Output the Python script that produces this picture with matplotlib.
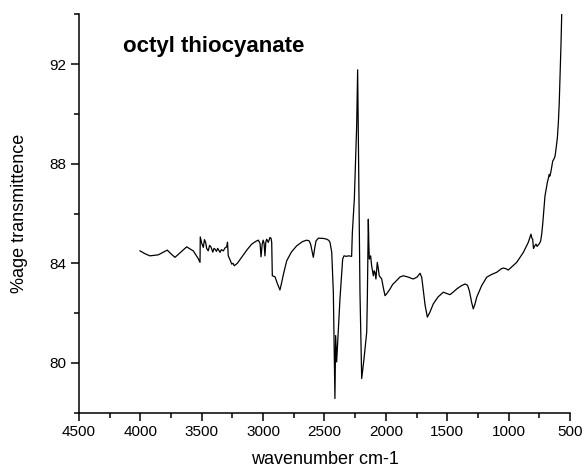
import matplotlib
matplotlib.use('Agg')
import matplotlib.pyplot as plt
from matplotlib.ticker import MultipleLocator

# IR spectrum
wavenumber = [
    4003, 3960, 3922, 3854, 3781, 3750, 3718, 3670, 3623, 3569, 3530, 3514,
    3512, 3500, 3487, 3478, 3468, 3460, 3447, 3436, 3425, 3410, 3400, 3392,
    3380, 3370, 3351, 3340, 3324, 3310, 3297, 3290, 3284, 3270, 3256, 3245,
    3235, 3210, 3175, 3130, 3093, 3060, 3039, 3025, 3017, 3008, 3000, 2992,
    2985, 2978, 2971, 2958, 2944, 2935, 2930, 2925, 2903, 2885, 2863, 2850,
    2835, 2808, 2770, 2727, 2680, 2645, 2625, 2613, 2600, 2591, 2580, 2569,
    2550, 2510, 2482, 2465, 2455, 2441, 2428, 2420, 2415, 2409, 2401, 2374,
    2352, 2341, 2320, 2306, 2279, 2273, 2257, 2238, 2230, 2225, 2211, 2197,
    2178, 2156, 2151, 2146, 2143, 2139, 2135, 2124, 2116, 2102, 2095, 2089,
    2081, 2070, 2062, 2054, 2034, 2020, 2007, 1990, 1966, 1945, 1926, 1885,
    1858, 1820, 1777, 1745, 1722, 1708, 1695, 1680, 1662, 1640, 1614, 1575,
    1532, 1500, 1478, 1450, 1423, 1385, 1355, 1335, 1320, 1300, 1288, 1275,
    1260, 1220, 1179, 1140, 1097, 1060, 1043, 1020, 1003, 970, 934, 880,
    840, 818, 810, 804, 798, 793, 785, 777, 768, 758, 748, 739,
    730, 722, 704, 685, 677, 669, 665, 657, 641, 630, 622, 615,
    608, 603, 595, 588, 581, 574, 567, 565,
]
transmittance = [
    84.50, 84.38, 84.30, 84.34, 84.53, 84.38, 84.24, 84.45, 84.66, 84.50, 84.20, 84.04,
    85.06, 84.80, 84.64, 84.95, 84.84, 84.60, 84.50, 84.72, 84.66, 84.45, 84.60, 84.57,
    84.48, 84.60, 84.44, 84.55, 84.50, 84.62, 84.66, 84.85, 84.30, 84.15, 83.97, 84.00,
    83.90, 84.00, 84.24, 84.55, 84.77, 84.88, 84.93, 84.80, 84.26, 84.75, 84.93, 84.80,
    84.30, 84.85, 84.97, 84.84, 85.04, 85.00, 84.84, 83.50, 83.46, 83.20, 82.93, 83.20,
    83.55, 84.10, 84.45, 84.70, 84.87, 84.93, 84.90, 84.77, 84.45, 84.24, 84.60, 84.90,
    85.01, 85.00, 84.97, 84.92, 84.84, 84.44, 82.84, 80.17, 78.57, 81.10, 80.04, 82.57,
    84.17, 84.30, 84.28, 84.30, 84.28, 85.24, 86.57, 89.50, 91.77, 89.50, 82.84, 79.37,
    80.17, 81.24, 82.57, 84.50, 85.77, 84.80, 84.17, 84.30, 83.90, 83.50, 83.70, 83.64,
    83.37, 84.04, 83.80, 83.50, 83.37, 83.00, 82.70, 82.80, 82.97, 83.15, 83.24, 83.45,
    83.50, 83.45, 83.37, 83.45, 83.60, 83.44, 82.90, 82.30, 81.84, 82.05, 82.37, 82.65,
    82.84, 82.78, 82.74, 82.85, 82.97, 83.10, 83.17, 83.12, 82.90, 82.40, 82.17, 82.35,
    82.64, 83.10, 83.44, 83.55, 83.64, 83.78, 83.81, 83.78, 83.73, 83.88, 84.04, 84.44,
    84.84, 85.17, 85.00, 84.97, 84.60, 84.64, 84.72, 84.77, 84.68, 84.74, 84.80, 84.90,
    85.20, 85.60, 86.70, 87.24, 87.40, 87.57, 87.50, 87.64, 88.10, 88.20, 88.30, 88.55,
    88.84, 89.04, 89.64, 90.40, 91.50, 92.70, 94.04, 94.50,
]

plt.rcParams['font.family'] = ['Liberation Sans', 'DejaVu Sans']

fig = plt.figure(figsize=(5.82, 4.69), dpi=100)
ax = fig.add_axes([0.1357, 0.120, 0.8437, 0.8495])

ax.plot(wavenumber, transmittance, color='black', linewidth=0.9)

ax.set_xlim(4500, 500)
ax.set_ylim(78, 94)
ax.xaxis.set_major_locator(MultipleLocator(500))
ax.xaxis.set_minor_locator(MultipleLocator(250))
ax.yaxis.set_major_locator(MultipleLocator(4))
ax.yaxis.set_minor_locator(MultipleLocator(2))
ax.set_yticks([80, 84, 88, 92])

for s in ['top', 'right']:
    ax.spines[s].set_visible(False)
for s in ['left', 'bottom']:
    ax.spines[s].set_linewidth(1.1)

ax.tick_params(which='major', direction='out', length=6, width=1.1, labelsize=11, pad=3)
ax.tick_params(which='minor', direction='out', length=3.5, width=1.1)

ax.set_xlabel('wavenumber cm-1', fontsize=13)
ax.set_ylabel('%age transmittence', fontsize=13)
ax.xaxis.set_label_coords(0.5, -0.097)
ax.yaxis.set_label_coords(-0.104, 0.5)

ax.text(4144, 92.5, 'octyl thiocyanate', fontsize=16, fontweight='bold')

fig.savefig('out.png', dpi=100)
